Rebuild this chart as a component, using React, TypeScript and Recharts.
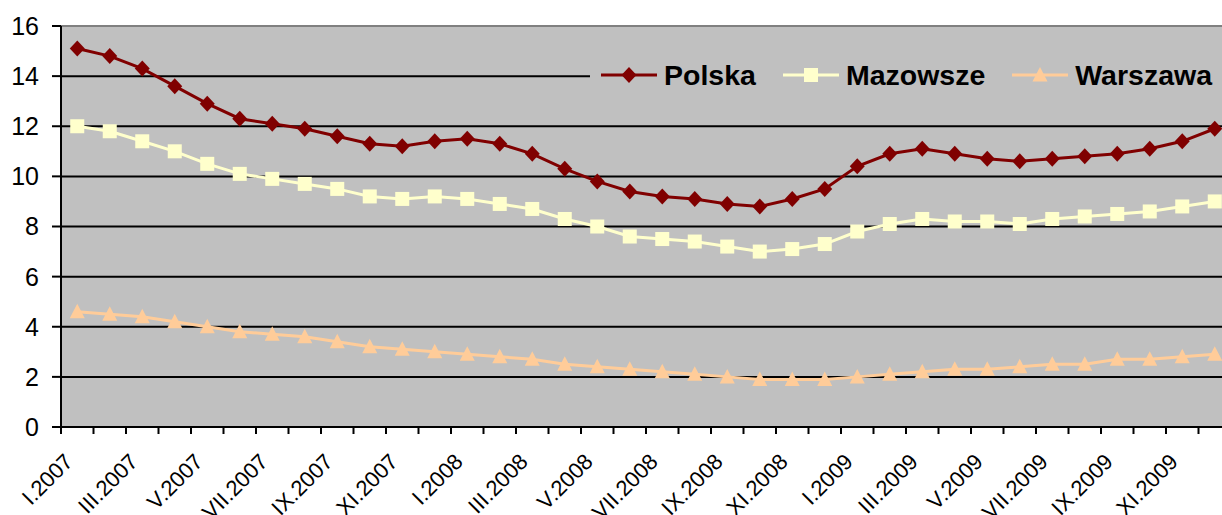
import React from 'react';
import { LineChart, Line, XAxis, YAxis, CartesianGrid, ReferenceLine, Legend } from 'recharts';

const months = [
  'I.2007','II.2007','III.2007','IV.2007','V.2007','VI.2007','VII.2007','VIII.2007','IX.2007','X.2007','XI.2007','XII.2007',
  'I.2008','II.2008','III.2008','IV.2008','V.2008','VI.2008','VII.2008','VIII.2008','IX.2008','X.2008','XI.2008','XII.2008',
  'I.2009','II.2009','III.2009','IV.2009','V.2009','VI.2009','VII.2009','VIII.2009','IX.2009','X.2009','XI.2009','XII.2009',
];
const polska = [15.1,14.8,14.3,13.6,12.9,12.3,12.1,11.9,11.6,11.3,11.2,11.4, 11.5,11.3,10.9,10.3,9.8,9.4,9.2,9.1,8.9,8.8,9.1,9.5, 10.4,10.9,11.1,10.9,10.7,10.6,10.7,10.8,10.9,11.1,11.4,11.9];
const mazowsze = [12.0,11.8,11.4,11.0,10.5,10.1,9.9,9.7,9.5,9.2,9.1,9.2, 9.1,8.9,8.7,8.3,8.0,7.6,7.5,7.4,7.2,7.0,7.1,7.3, 7.8,8.1,8.3,8.2,8.2,8.1,8.3,8.4,8.5,8.6,8.8,9.0];
const warszawa = [4.6,4.5,4.4,4.2,4.0,3.8,3.7,3.6,3.4,3.2,3.1,3.0, 2.9,2.8,2.7,2.5,2.4,2.3,2.2,2.1,2.0,1.9,1.9,1.9, 2.0,2.1,2.2,2.3,2.3,2.4,2.5,2.5,2.7,2.7,2.8,2.9];
const yTicks = [0, 2, 4, 6, 8, 10, 12, 14, 16];
const seriesNames = ['Polska', 'Mazowsze', 'Warszawa'];

const data = months.map((m, i) => ({ month: m, Polska: polska[i], Mazowsze: mazowsze[i], Warszawa: warszawa[i] }));

const CHART_W = 1240;
const CHART_H = 515;
const Y_AXIS_W = 61;
const PLOT_W = 1170;
const BAND = PLOT_W / months.length;
const FONT = '"Liberation Sans", Arial, sans-serif';

const COLORS: Record<string, string> = { Polska: '#800000', Mazowsze: '#FFFFCC', Warszawa: '#FFCC99' };

function Marker({ kind, cx, cy }: { kind: string; cx: number; cy: number }) {
  if (kind === 'Polska') {
    return <polygon points={`${cx},${cy - 8} ${cx + 7.5},${cy} ${cx},${cy + 8} ${cx - 7.5},${cy}`} fill={COLORS.Polska} />;
  }
  if (kind === 'Mazowsze') {
    return <rect x={cx - 7} y={cy - 7} width={14} height={14} fill={COLORS.Mazowsze} />;
  }
  return <polygon points={`${cx},${cy - 8} ${cx + 7.5},${cy + 6.5} ${cx - 7.5},${cy + 6.5}`} fill={COLORS.Warszawa} />;
}

const makeDot = (kind: string) => (props: any) => {
  const { cx, cy, index } = props;
  if (cx == null || cy == null) return <g key={`${kind}-${index}`} />;
  return <Marker key={`${kind}-${index}`} kind={kind} cx={cx} cy={cy} />;
};

const XTick = (props: any) => {
  const { x, y, payload, index } = props;
  const bx = x - BAND / 2;
  const tx = x - 3;
  const ty = y + 36;
  return (
    <g>
      <line x1={bx} y1={y} x2={bx} y2={y + 7} stroke="#000" strokeWidth={2} />
      {index % 2 === 0 && (
        <text x={tx} y={ty} transform={`rotate(-45 ${tx} ${ty})`} textAnchor="end" fontSize={22} fontFamily={FONT} fill="#000">
          {payload.value}
        </text>
      )}
    </g>
  );
};

const LegendContent = () => (
  <div style={{ display: 'flex', alignItems: 'center', height: 38, background: '#C0C0C0', paddingLeft: 11 }}>
    {seriesNames.map((name) => (
      <div key={name} style={{ display: 'flex', alignItems: 'center', marginRight: 27 }}>
        <svg width={56} height={20} style={{ display: 'block' }}>
          <line x1={0} y1={10} x2={56} y2={10} stroke={COLORS[name]} strokeWidth={3} />
          <Marker kind={name} cx={28} cy={10} />
        </svg>
        <span style={{ marginLeft: 7, fontFamily: FONT, fontWeight: 'bold', fontSize: 28.5, color: '#000', lineHeight: '38px' }}>{name}</span>
      </div>
    ))}
  </div>
);

export default function App() {
  return (
    <div style={{ position: 'fixed', left: 0, top: 0, width: 1222, height: 515, overflow: 'hidden', background: '#fff' }}>
      <LineChart width={CHART_W} height={CHART_H} data={data} margin={{ top: 26, right: CHART_W - Y_AXIS_W - PLOT_W, bottom: 0, left: 0 }}>
        <CartesianGrid vertical={false} fill="#C0C0C0" stroke="#000" strokeWidth={2} strokeOpacity={1} />
        <ReferenceLine y={16} stroke="#808080" strokeWidth={2} />
        <XAxis
          dataKey="month"
          interval={0}
          padding={{ left: BAND / 2, right: BAND / 2 }}
          height={88}
          tickLine={false}
          tickSize={0}
          tickMargin={0}
          axisLine={{ stroke: '#000', strokeWidth: 2 }}
          tick={<XTick />}
        />
        <YAxis
          width={Y_AXIS_W}
          domain={[0, 16]}
          ticks={yTicks}
          interval={0}
          tickSize={9}
          tickMargin={13}
          tickLine={{ stroke: '#000', strokeWidth: 2 }}
          axisLine={{ stroke: '#000', strokeWidth: 2 }}
          tick={{ fontSize: 25, fontFamily: FONT, fill: '#000' }}
        />
        <Legend
          layout="horizontal"
          align="center"
          verticalAlign="middle"
          content={<LegendContent />}
          wrapperStyle={{ left: 590, top: 56, width: 650, height: 38 }}
        />
        {seriesNames.map((name) => (
          <Line
            key={name}
            type="linear"
            dataKey={name}
            stroke={COLORS[name]}
            strokeWidth={3}
            dot={makeDot(name)}
            activeDot={false}
            isAnimationActive={false}
          />
        ))}
      </LineChart>
    </div>
  );
}
